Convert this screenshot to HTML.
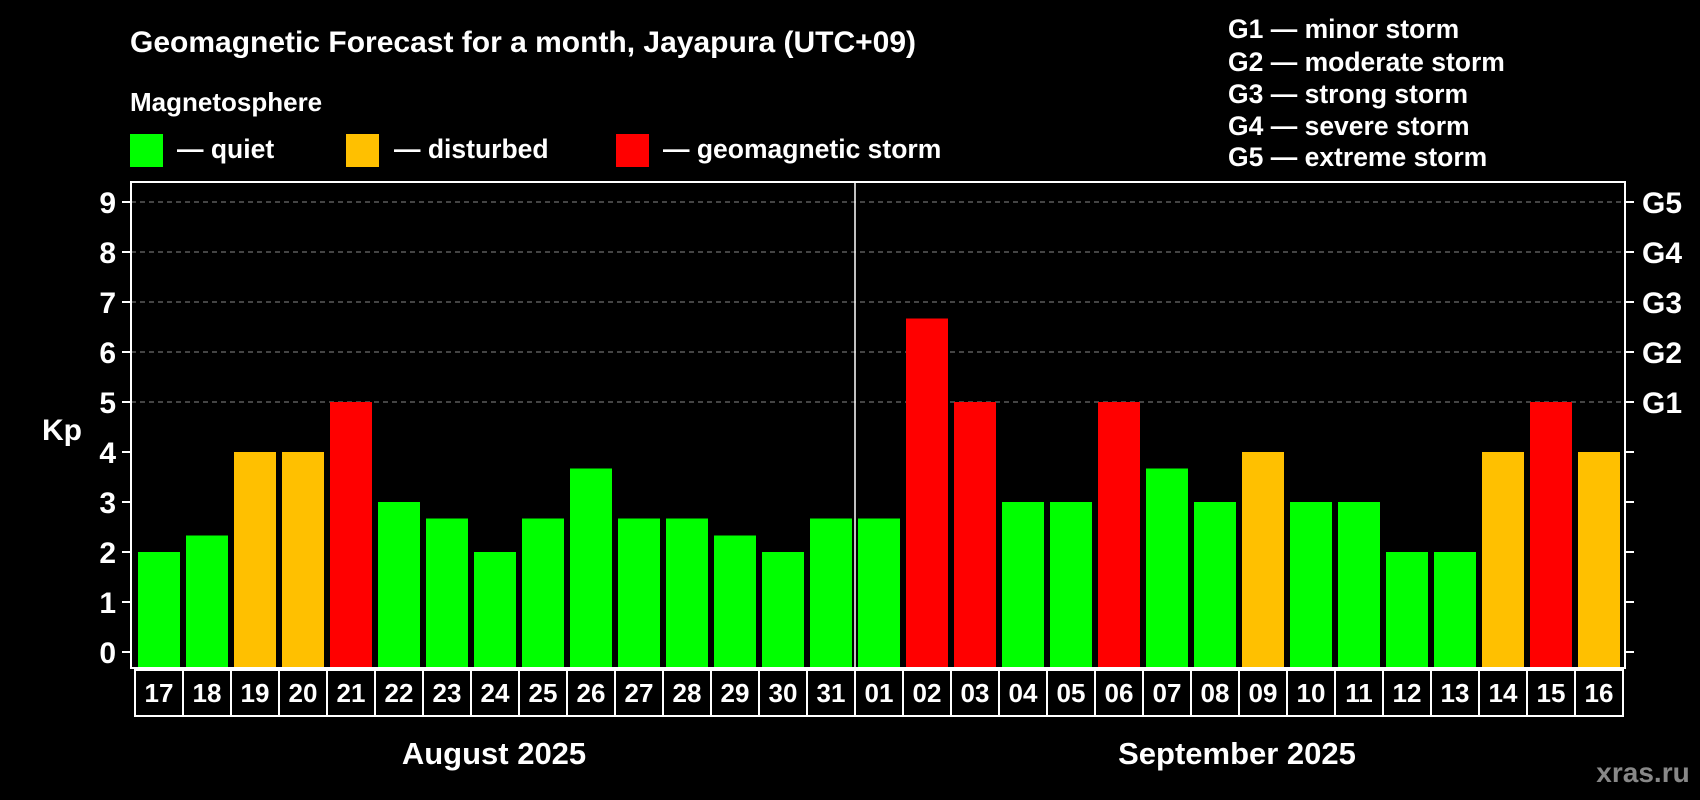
<!DOCTYPE html>
<html><head><meta charset="utf-8"><style>
html,body{margin:0;padding:0;background:#000;}
svg{display:block;font-family:"Liberation Sans",Arial,sans-serif;font-weight:bold;}
</style></head><body>
<svg id="chart" width="1700" height="800" viewBox="0 0 1700 800">
<text x="130" y="52" fill="#fff" font-size="30">Geomagnetic Forecast for a month, Jayapura (UTC+09)</text>
<text x="130" y="111" fill="#fff" font-size="26">Magnetosphere</text>
<rect x="130" y="134" width="33" height="33" fill="#00ff00"/>
<text x="177" y="158" fill="#fff" font-size="26.5">— quiet</text>
<rect x="346" y="134" width="33" height="33" fill="#ffc000"/>
<text x="394" y="158" fill="#fff" font-size="26.5">— disturbed</text>
<rect x="616" y="134" width="33" height="33" fill="#ff0000"/>
<text x="663" y="158" fill="#fff" font-size="26.5">— geomagnetic storm</text>
<g font-size="26.5" fill="#fff">
<text x="1228" y="38">G1 — minor storm</text>
<text x="1228" y="71">G2 — moderate storm</text>
<text x="1228" y="103">G3 — strong storm</text>
<text x="1228" y="135">G4 — severe storm</text>
<text x="1228" y="166">G5 — extreme storm</text>
</g>
<text x="42" y="440" fill="#fff" font-size="30">Kp</text>
<text x="494" y="764" fill="#fff" font-size="31" text-anchor="middle">August 2025</text>
<text x="1237" y="764" fill="#fff" font-size="31" text-anchor="middle">September 2025</text>
<text x="1643" y="782" fill="#888" font-size="28" text-anchor="middle">xras.ru</text>
<g id="plot"></g>
</svg>
<script>
const days=["17","18","19","20","21","22","23","24","25","26","27","28","29","30","31","01","02","03","04","05","06","07","08","09","10","11","12","13","14","15","16"];
const kpValues=[2,2.33,4,4,5,3,2.67,2,2.67,3.67,2.67,2.67,2.33,2,2.67,2.67,6.67,5,3,3,5,3.67,3,4,3,3,2,2,4,5,4];
const yTicks=[0,1,2,3,4,5,6,7,8,9];
const gLabels=["G1","G2","G3","G4","G5"];
const gLevels=[5,6,7,8,9];
const NS="http://www.w3.org/2000/svg";
const g=document.getElementById('plot');
const L=131,R=1625,T=182,B=668,Y0=652,Y9=202,step=48,x0=135;
const y=v=>Y0-(Y0-Y9)*v/9;
const xb=i=>x0+i*step;
function mk(tag,a){const e=document.createElementNS(NS,tag);for(const k in a)e.setAttribute(k,a[k]);g.appendChild(e);return e;}
yTicks.forEach(t=>{
  if(t>=5){const l=mk('line',{x1:L,x2:R,y1:y(t),y2:y(t),stroke:'#888','stroke-width':1,'stroke-dasharray':'5,4'});
  
  }
  const tk=mk('line',{x1:122,x2:L,y1:y(t),y2:y(t),stroke:'#fff','stroke-width':2});
  
  
  const tr=mk('line',{x1:R,x2:1634,y1:y(t),y2:y(t),stroke:'#fff','stroke-width':2});
  
  
  const tx=mk('text',{x:116,y:y(t)+11,fill:'#fff','font-size':30,'text-anchor':'end'});
  tx.textContent=t;
  
  
});
gLabels.forEach((s,i)=>{
  const tx=mk('text',{x:1642,y:y(gLevels[i])+11,fill:'#fff','font-size':30});
  tx.textContent=s;
  
  
});
kpValues.forEach((v,i)=>{
  const c=v>=5?'#ff0000':(v>=4?'#ffc000':'#00ff00');
  const r=mk('rect',{x:xb(i)+3,y:y(v),width:42,height:B-1-y(v),fill:c});
  
  
  const bx=mk('rect',{x:xb(i),y:670,width:step,height:46,fill:'none',stroke:'#fff','stroke-width':2});
  
  
  const tx=mk('text',{x:xb(i)+step/2,y:702,fill:'#fff','font-size':26,'text-anchor':'middle'});
  tx.textContent=days[i];
  
  
});
const sep=mk('line',{x1:xb(15),x2:xb(15),y1:T,y2:B,stroke:'#fff','stroke-width':1.5});


const fr=mk('rect',{x:L,y:T,width:R-L,height:B-T,fill:'none',stroke:'#fff','stroke-width':2});


</script>
</body></html>
